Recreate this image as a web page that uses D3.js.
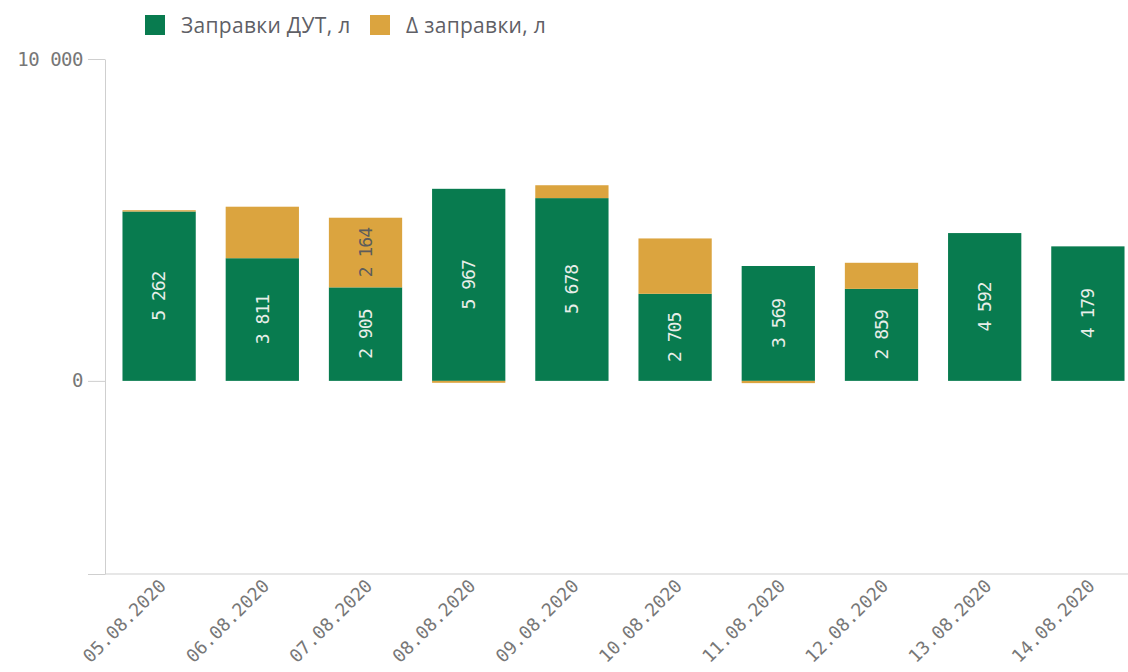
<!DOCTYPE html>
<html>
<head>
<meta charset="utf-8">
<script src="https://cdn.jsdelivr.net/npm/d3@7"></script>
<style>
  body { margin: 0; background: #fff; }
  svg { display: block; }
</style>
</head>
<body>
<div id="chart"></div>
<script>
// values
var dates = ["05.08.2020", "06.08.2020", "07.08.2020", "08.08.2020", "09.08.2020",
             "10.08.2020", "11.08.2020", "12.08.2020", "13.08.2020", "14.08.2020"];
var dut   = [5262, 3811, 2905, 5967, 5678, 2705, 3569, 2859, 4592, 4179];
var delta = [40, 1600, 2164, -60, 400, 1720, -70, 810, 0, 0];
var yTicks = [-6000, 0, 10000];
var seriesNames = ["Заправки ДУТ, л", "Δ заправки, л"];

var width = 1128, height = 672;
var green = "#087b4f", gold = "#dba43f";

var svg = d3.select("#chart").append("svg")
  .attr("width", width).attr("height", height);

var x = d3.scaleBand().domain(dates).range([107, 1140])
  .paddingInner(0.29).paddingOuter(0.15);
var y = d3.scaleLinear().domain([-6000, 10000]).range([574, 59]);

var fmt = function(v){ return d3.format(",")(v).replace(/,/g, " "); };

// axes
var yAxis = svg.append("g").attr("transform", "translate(105,0)")
  .call(d3.axisLeft(y).tickValues(yTicks).tickSize(17).tickSizeOuter(0).tickPadding(5)
    .tickFormat(function(d){ return d < 0 ? "" : fmt(d); }));
yAxis.select(".domain").attr("stroke", "#cfcfcf");
yAxis.selectAll(".tick line").attr("stroke", "#cfcfcf");
yAxis.selectAll(".tick text")
  .style("font-family", "DejaVu Sans Mono, monospace")
  .style("font-size", "19px").style("letter-spacing", "-0.5px").attr("fill", "#777");

svg.append("line")
  .attr("x1", 105).attr("x2", width)
  .attr("y1", y(-6000)).attr("y2", y(-6000))
  .attr("stroke", "#cfcfcf");

var rows = dates.map(function(d, i){ return {date: d, dut: dut[i], delta: delta[i]}; });

// green bars
svg.selectAll("rect.dut").data(rows).enter().append("rect")
  .attr("class", "dut")
  .attr("x", function(d){ return x(d.date); })
  .attr("width", x.bandwidth())
  .attr("y", function(d){ return y(d.dut); })
  .attr("height", function(d){ return y(0) - y(d.dut); })
  .attr("fill", green);

// delta stacked on top (or below zero if negative)
svg.selectAll("rect.delta").data(rows.filter(function(d){ return d.delta !== 0; }))
  .enter().append("rect")
  .attr("class", "delta")
  .attr("x", function(d){ return x(d.date); })
  .attr("width", x.bandwidth())
  .attr("y", function(d){ return d.delta > 0 ? y(d.dut + d.delta) : y(0); })
  .attr("height", function(d){
    return d.delta > 0 ? y(d.dut) - y(d.dut + d.delta) : y(d.delta) - y(0); })
  .attr("fill", gold);

// labels inside bars
svg.selectAll("text.dutlbl").data(rows).enter().append("text")
  .attr("class", "dutlbl")
  .attr("transform", function(d){
    return "translate(" + (x(d.date) + x.bandwidth() / 2) + "," + y(d.dut / 2) + ") rotate(-90)"; })
  .attr("text-anchor", "middle").attr("dy", "0.35em")
  .style("font-family", "DejaVu Sans Mono, monospace")
  .style("font-size", "18px").style("letter-spacing", "-1px")
  .attr("fill", "#e8eee9")
  .text(function(d){ return fmt(d.dut); });

svg.selectAll("text.deltalbl")
  .data(rows.filter(function(d){ return d.delta > 0 && y(d.dut) - y(d.dut + d.delta) > 60; }))
  .enter().append("text")
  .attr("class", "deltalbl")
  .attr("transform", function(d){
    return "translate(" + (x(d.date) + x.bandwidth() / 2) + "," + y(d.dut + d.delta / 2) + ") rotate(-90)"; })
  .attr("text-anchor", "middle").attr("dy", "0.35em")
  .style("font-family", "DejaVu Sans Mono, monospace")
  .style("font-size", "18px").style("letter-spacing", "-1px")
  .attr("fill", "#5c5c5c")
  .text(function(d){ return fmt(d.delta); });

// x labels
svg.selectAll("text.xlbl").data(dates).enter().append("text")
  .attr("class", "xlbl")
  .attr("transform", function(d){
    return "translate(" + (x(d) + x.bandwidth() / 2 + 8) + ",587) rotate(-45)"; })
  .attr("text-anchor", "end")
  .style("font-family", "DejaVu Sans Mono, monospace")
  .style("font-size", "18px")
  .attr("fill", "#777")
  .text(function(d){ return d; });

// legend
var legend = svg.append("g");
var lx = [145, 370];
seriesNames.forEach(function(name, i){
  legend.append("rect").attr("x", lx[i]).attr("y", 15).attr("width", 20).attr("height", 20)
    .attr("fill", i === 0 ? green : gold);
  legend.append("text").attr("x", lx[i] + 36).attr("y", 33)
    .style("font-family", "'Open Sans', sans-serif").style("font-size", "21px")
    .style("letter-spacing", "0.3px")
    .attr("fill", "#5f5f66")
    .text(name);
});
</script>
</body>
</html>
